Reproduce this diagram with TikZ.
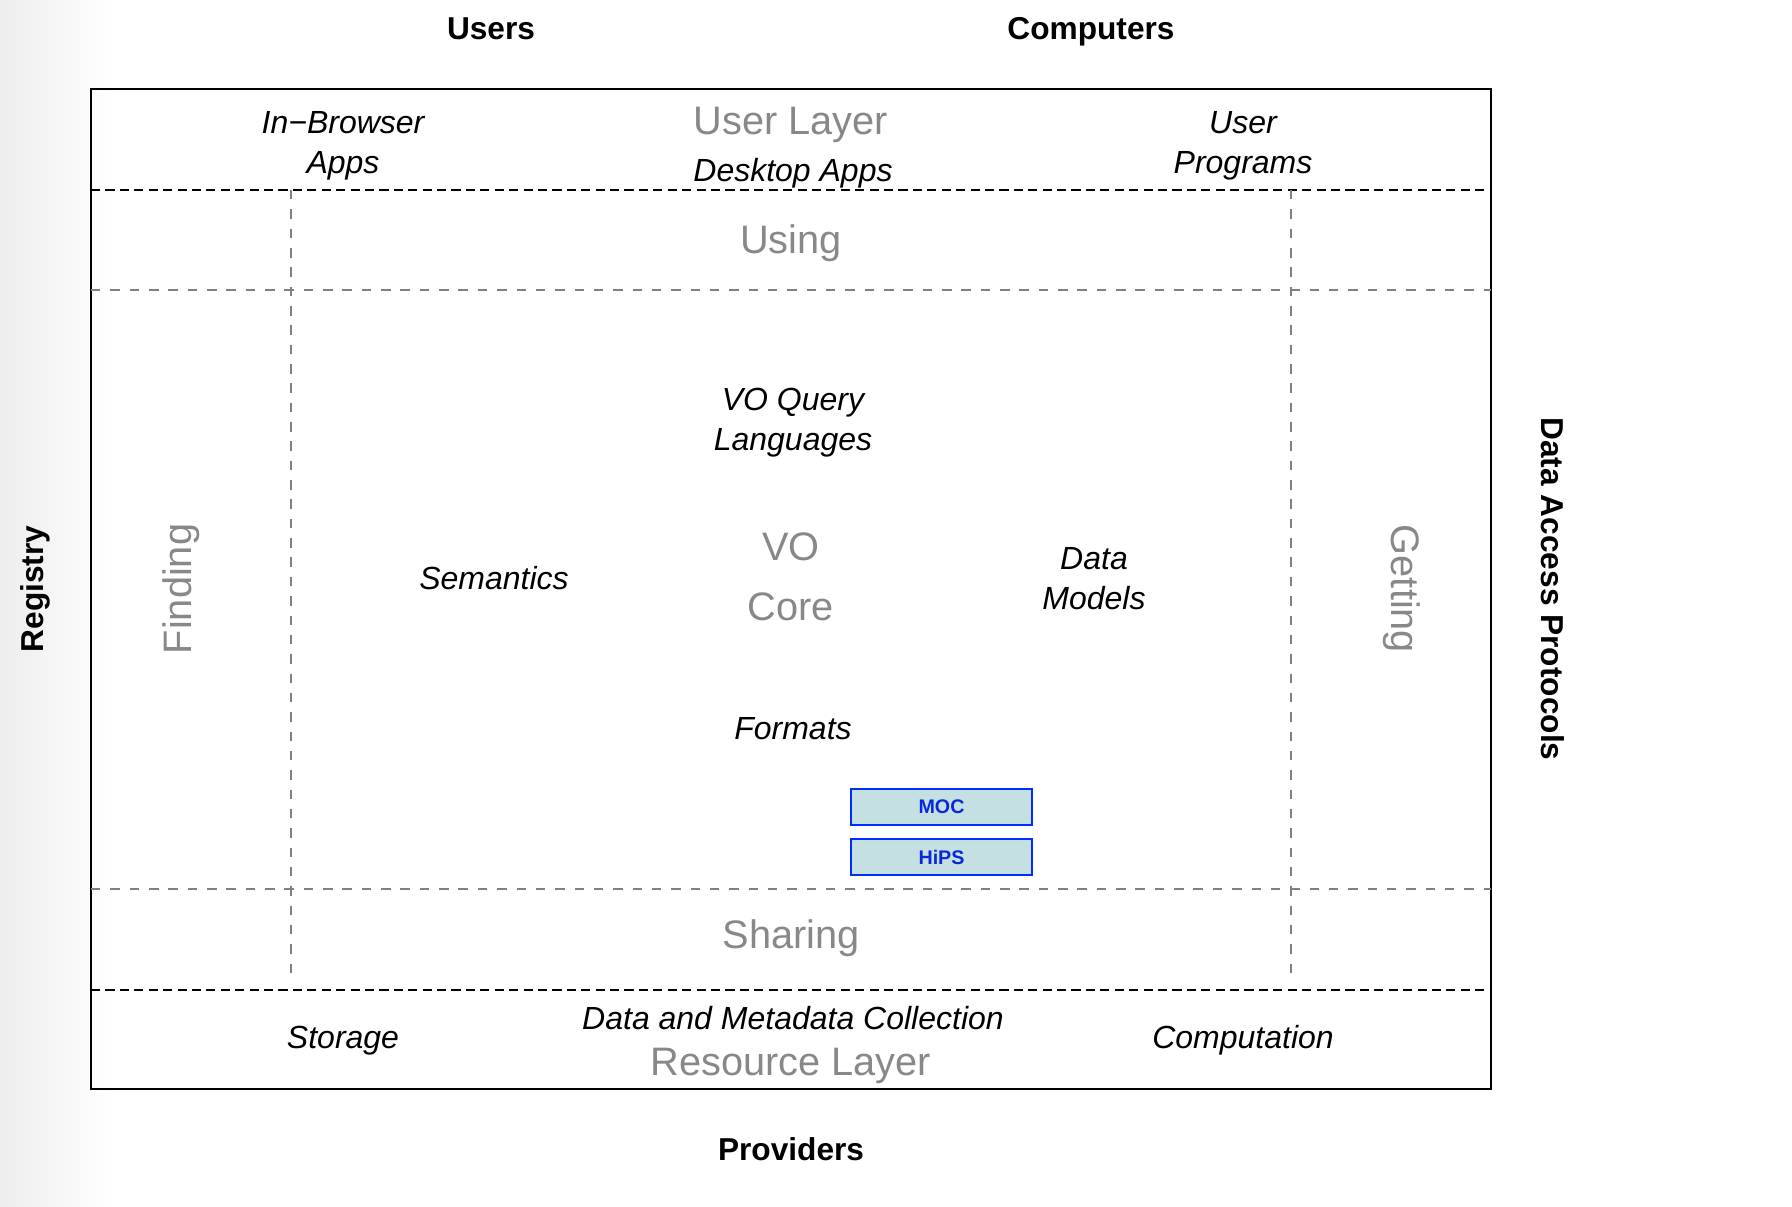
\documentclass[tikz,border=0pt]{standalone}
\usepackage{fontspec}
\setmainfont{Liberation Sans}
\usepackage{tikz}
\usetikzlibrary{positioning}
\definecolor{laygray}{RGB}{136,136,136}
\definecolor{linegray}{RGB}{128,128,128}
\definecolor{stdblue}{RGB}{0,45,255}
\definecolor{stdtext}{RGB}{10,40,215}
\definecolor{stdfill}{RGB}{197,224,227}

\begin{document}
\begin{tikzpicture}[x=0.01cm, y=-0.01cm,
    item/.style={font=\fontsize{9.1}{11.4}\selectfont\itshape, align=center, inner sep=0},
    layer/.style={text=laygray, font=\fontsize{11.3}{17}\selectfont, align=center, inner sep=0},
    side/.style={font=\fontsize{9}{10.5}\selectfont\bfseries, inner sep=0},
    stdbox/.style={draw=stdblue, line width=0.6pt, fill=stdfill, text=stdtext,
        font=\fontsize{5.6}{6}\selectfont\bfseries, minimum width=1.81cm, minimum height=0.36cm, inner sep=0},
    edge/.style={line width=0.6pt, dash pattern=on 2.6pt off 1.5pt},
    grid/.style={draw=linegray, line width=0.4pt, dash pattern=on 2.7pt off 2.8pt}]
  \useasboundingbox (0,0) rectangle (1792,1206);
  % page shadow on the left
  \shade[left color=black!7, right color=white] (0,0) rectangle (115,1206);

  % frame and layers
  \draw[line width=0.6pt] (91,89) rectangle (1491,1089);
  \draw[edge] (91,190) -- (1491,190);
  \draw[edge] (91,990) -- (1491,990);
  \draw[grid] (91,290) -- (1491,290);
  \draw[grid] (91,889) -- (1491,889);
  \draw[grid] (291,190) -- (291,980);
  \draw[grid] (1291,190) -- (1291,980);

  % outside labels
  \node[side] (users) at (491,29) {Users};
  \node[side] (computers) at (1091,32) {Computers};
  \node[side] (providers) at (791,1149) {Providers};
  \node[side, rotate=90] (registry) at (35.5,589) {Registry};
  \node[side, rotate=-90] (dap) at (1553,589) {Data Access Protocols};

  % user layer
  \node[item] (browser) at (343,145.5) {In−Browser\\Apps};
  \node[layer] (userlayer) at (791,124.5) {User Layer};
  \node[item] (desktop) at (793,173) {Desktop Apps};
  \node[item] (programs) at (1243,145.5) {User\\Programs};

  % core
  \node[layer] (using) at (791,243.5) {Using};
  \node[layer, rotate=90] (finding) at (181,589) {Finding};
  \node[layer, rotate=-90] (getting) at (1402,589) {Getting};
  \node[item] (query) at (793,422.5) {VO Query\\Languages};
  \node[item] (semantics) at (494,578) {Semantics};
  \node[layer] (core) at (791,577) {VO\\Core};
  \node[item] (models) at (1094,579) {Data\\Models};
  \node[item] (formats) at (793,729) {Formats};
  \node[stdbox] (moc) at (941.5,807) {MOC};
  \node[stdbox] (hips) at (941.5,857) {HiPS};
  \node[layer] (sharing) at (791,938.5) {Sharing};

  % resource layer
  \node[item] (storage) at (343,1041) {Storage};
  \node[item] (collection) at (793,1018) {Data and Metadata Collection};
  \node[layer] (reslayer) at (791,1065.5) {Resource Layer};
  \node[item] (computation) at (1243,1040) {Computation};
\end{tikzpicture}
\end{document}
